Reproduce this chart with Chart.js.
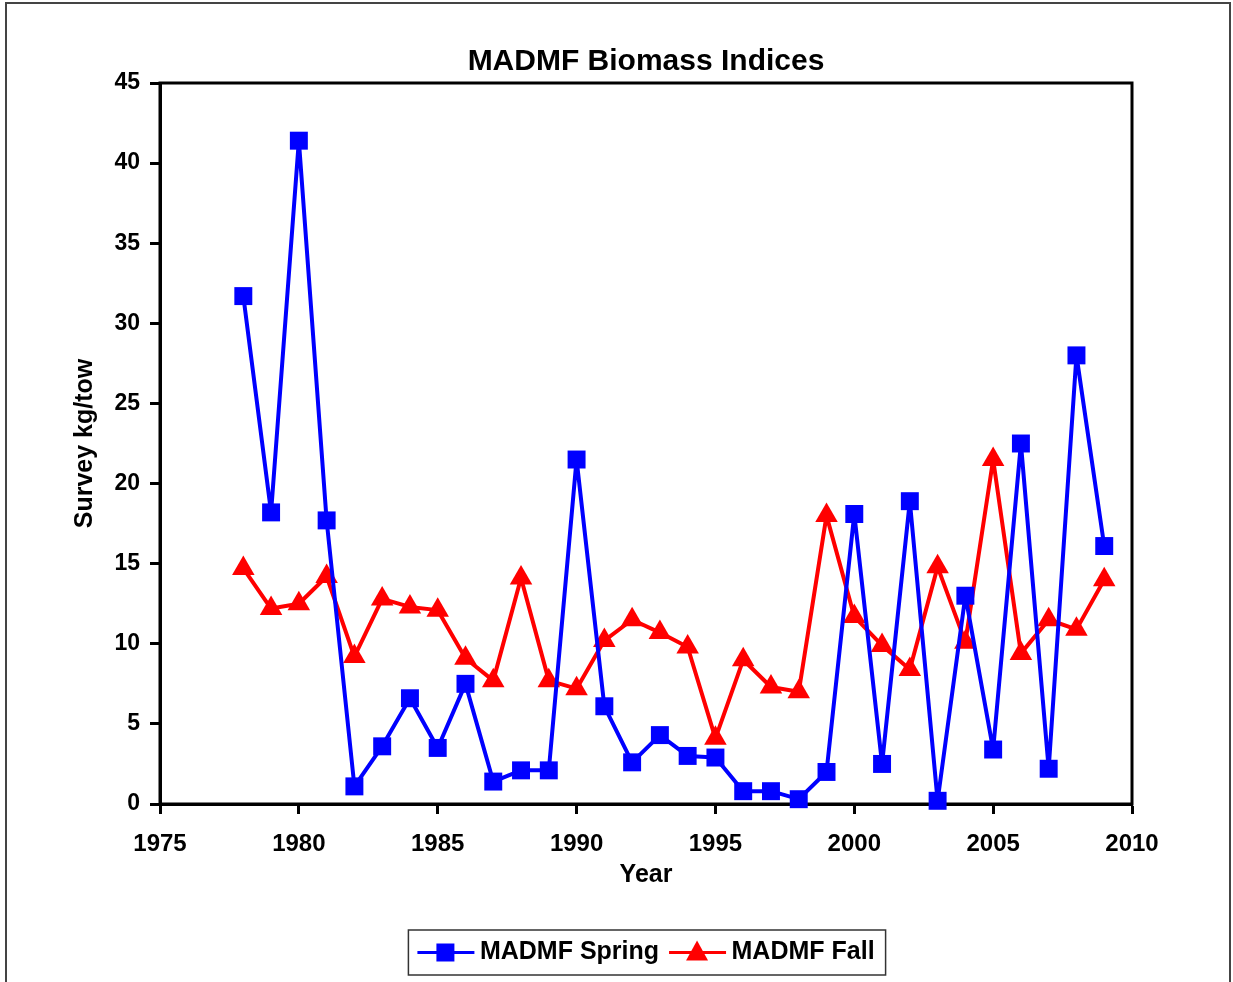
<!DOCTYPE html>
<html lang="en">
<head>
  <meta charset="UTF-8">
  <title>MADMF Biomass Indices</title>
  <style>
    body { margin: 0; background: #fff; }
    #wrap { position: relative; width: 1233px; height: 982px; overflow: hidden; }
    #frame { position: absolute; left: 5px; top: 2px; width: 1222px; height: 1000px; border: 2px solid #444; pointer-events: none; }
  </style>
  <script src="https://cdn.jsdelivr.net/npm/chart.js"></script>
</head>
<body>
  <div id="wrap">
    <canvas id="biomassChart" width="1233" height="982"></canvas>
    <div id="frame"></div>
  </div>

  <script>
    // survey years and indices (kg/tow)
    const years = [1978, 1979, 1980, 1981, 1982, 1983, 1984, 1985, 1986, 1987,
                   1988, 1989, 1990, 1991, 1992, 1993, 1994, 1995, 1996, 1997,
                   1998, 1999, 2000, 2001, 2002, 2003, 2004, 2005, 2006, 2007,
                   2008, 2009];
    const springIndex = [31.7, 18.2, 41.4, 17.7, 1.1, 3.6, 6.6, 3.5, 7.5, 1.4,
                         2.1, 2.1, 21.5, 6.1, 2.6, 4.3, 3.0, 2.9, 0.8, 0.8,
                         0.3, 2.0, 18.1, 2.5, 18.9, 0.2, 13.0, 3.4, 22.5, 2.2,
                         28.0, 16.1];
    const fallIndex = [14.7, 12.2, 12.5, 14.2, 9.2, 12.8, 12.3, 12.1, 9.1, 7.7,
                       14.1, 7.7, 7.2, 10.2, 11.5, 10.7, 9.8, 4.1, 9.0, 7.3,
                       7.0, 18.0, 11.7, 9.9, 8.4, 14.8, 10.1, 21.5, 9.4, 11.5,
                       10.9, 14.0];
    const seriesNames = ['MADMF Spring', 'MADMF Fall'];
    const xTicks = [1975, 1980, 1985, 1990, 1995, 2000, 2005, 2010];
    const yTicks = [0, 5, 10, 15, 20, 25, 30, 35, 40, 45];

    function toPoints(vals) {
      return years.map((yr, i) => ({ x: yr, y: vals[i] }));
    }

    // draws a marker shape at x,y
    function marker(ctx, style, x, y, color) {
      ctx.save();
      ctx.fillStyle = color;
      ctx.beginPath();
      if (style === 'rect') {
        ctx.rect(x - 9, y - 9, 18, 18);
      } else {
        ctx.moveTo(x, y - 12);
        ctx.lineTo(x + 11, y + 8);
        ctx.lineTo(x - 11, y + 8);
        ctx.closePath();
      }
      ctx.fill();
      ctx.restore();
    }

    // black box around the plot area
    const plotFrame = {
      id: 'plotFrame',
      beforeDatasetsDraw(chart) {
        const a = chart.chartArea, ctx = chart.ctx;
        ctx.save();
        ctx.strokeStyle = '#000';
        ctx.lineWidth = 3;
        ctx.strokeRect(a.left, a.top, a.right - a.left, a.bottom - a.top);
        ctx.restore();
      }
    };

    // legend entries drawn Excel style: a line with the marker on it, inside a box
    const legendLines = {
      id: 'legendLines',
      afterDraw(chart) {
        const lg = chart.legend, ctx = chart.ctx;
        if (!lg || !lg.legendHitBoxes) return;
        const hb = lg.legendHitBoxes;
        hb.forEach((b, i) => {
          const ds = chart.data.datasets[i];
          const cy = b.top + b.height / 2;
          ctx.save();
          ctx.strokeStyle = ds.borderColor;
          ctx.lineWidth = 3;
          ctx.beginPath();
          ctx.moveTo(b.left, cy);
          ctx.lineTo(b.left + 57, cy);
          ctx.stroke();
          ctx.restore();
          marker(ctx, ds.pointStyle, b.left + 28, cy, ds.borderColor);
        });
        const first = hb[0], last = hb[hb.length - 1];
        ctx.save();
        ctx.strokeStyle = '#333';
        ctx.lineWidth = 1.5;
        ctx.strokeRect(first.left - 9, lg.top, last.left + last.width + 11 - (first.left - 9), lg.bottom - lg.top);
        ctx.restore();
      }
    };

    const ctx = document.getElementById('biomassChart').getContext('2d');
    new Chart(ctx, {
      type: 'line',
      data: {
        datasets: [
          {
            label: seriesNames[0],
            data: toPoints(springIndex),
            borderColor: '#0000ff',
            backgroundColor: '#0000ff',
            borderWidth: 4,
            borderJoinStyle: 'round',
            pointStyle: 'rect',
            pointRadius: 12.7,
            pointBorderWidth: 0,
            tension: 0,
            clip: false
          },
          {
            label: seriesNames[1],
            data: toPoints(fallIndex),
            borderColor: '#ff0000',
            backgroundColor: '#ff0000',
            borderWidth: 4,
            borderJoinStyle: 'round',
            pointStyle: 'triangle',
            pointRadius: 13,
            pointBorderWidth: 0,
            tension: 0,
            clip: false
          }
        ]
      },
      options: {
        responsive: false,
        animation: false,
        layout: { padding: { left: 68, right: 101, top: 34, bottom: 7 } },
        font: { family: 'Arial, "Liberation Sans", sans-serif', weight: 'bold' },
        plugins: {
          title: {
            display: true,
            text: 'MADMF Biomass Indices',
            fullSize: false,
            color: '#000',
            font: { size: 30, weight: 'bold' },
            padding: { top: 10, bottom: 3 }
          },
          legend: {
            position: 'bottom',
            fullSize: false,
            labels: {
              color: '#000',
              font: { size: 25, weight: 'bold' },
              boxWidth: 50,
              padding: 10,
              generateLabels(chart) {
                return chart.data.datasets.map((ds, i) => ({
                  text: ds.label,
                  datasetIndex: i,
                  fillStyle: 'rgba(0,0,0,0)',
                  strokeStyle: 'rgba(0,0,0,0)',
                  lineWidth: 0,
                  fontColor: '#000'
                }));
              }
            }
          },
          tooltip: { enabled: false }
        },
        scales: {
          x: {
            type: 'linear',
            min: xTicks[0],
            max: xTicks[xTicks.length - 1],
            afterFit(scale) { scale.height = 126; },
            afterBuildTicks(scale) { scale.ticks = xTicks.map(v => ({ value: v })); },
            ticks: {
              color: '#000',
              font: { size: 24, weight: 'bold' },
              padding: 16,
              maxRotation: 0,
              callback: v => String(v)
            },
            grid: { drawOnChartArea: false, tickLength: 10, tickWidth: 3, tickColor: '#000' },
            border: { color: '#000', width: 3 },
            title: {
              display: true,
              text: 'Year',
              color: '#000',
              font: { size: 25, weight: 'bold' },
              padding: { top: 4, bottom: 40 }
            }
          },
          y: {
            min: yTicks[0],
            max: yTicks[yTicks.length - 1],
            afterFit(scale) { scale.width = 92; },
            afterBuildTicks(scale) { scale.ticks = yTicks.map(v => ({ value: v })); },
            ticks: {
              color: '#000',
              font: { size: 23, weight: 'bold' },
              padding: 10
            },
            grid: { drawOnChartArea: false, tickLength: 10, tickWidth: 3, tickColor: '#000' },
            border: { color: '#000', width: 3 },
            title: {
              display: true,
              text: 'Survey kg/tow',
              color: '#000',
              font: { size: 25, weight: 'bold' },
              padding: { top: 2, bottom: 4 }
            }
          }
        }
      },
      plugins: [plotFrame, legendLines]
    });
  </script>
</body>
</html>
